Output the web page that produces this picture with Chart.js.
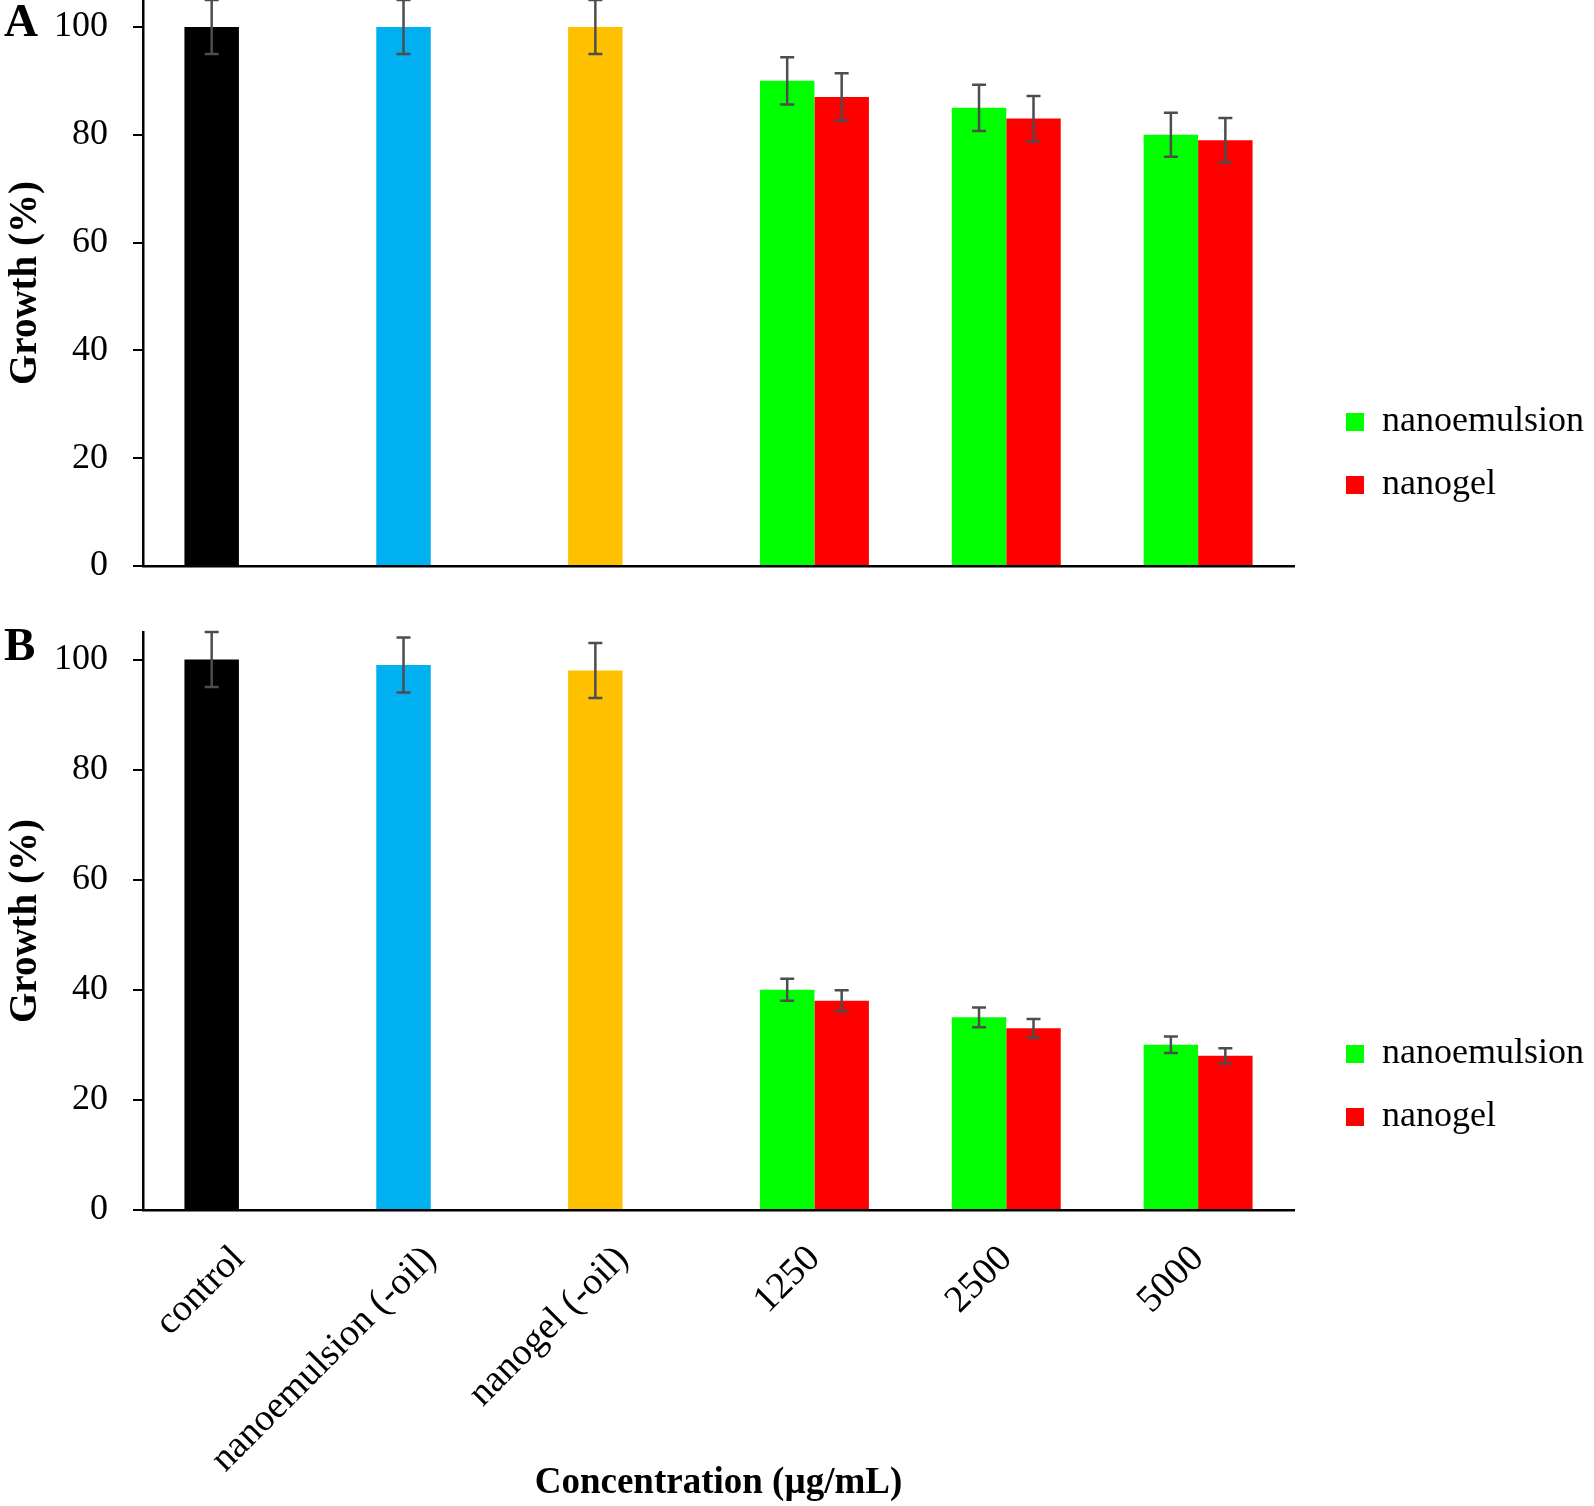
<!DOCTYPE html>
<html>
<head>
<meta charset="utf-8">
<script src="https://cdn.jsdelivr.net/npm/chart.js@4.4.1/dist/chart.umd.min.js"></script>
<style>
  body { margin: 0; background: #fff; }
  #wrap { position: relative; width: 1594px; height: 1506px; }
  canvas { position: absolute; left: 0; }
  #chart-a { top: 0; }
  #chart-b { top: 600px; }
  .panel-tag { position: absolute; left: 4px; font: bold 47px "Times New Roman", "Liberation Serif", serif; line-height: 1; }
</style>
</head>
<body>
<div id="wrap">
  <canvas id="chart-a" width="1594" height="600"></canvas>
  <canvas id="chart-b" width="1594" height="906"></canvas>
  <div class="panel-tag" style="top:-3px">A</div>
  <div class="panel-tag" style="top:621px">B</div>
</div>
<script>
// ==============================
// Data
// ==============================
const categories = ["control", "nanoemulsion (-oil)", "nanogel (-oil)", "1250", "2500", "5000"];
const seriesNames = ["nanoemulsion", "nanogel"];
const legendColors = ["#00FF00", "#FF0000"];
const firstBarColors = ["#000000", "#00B0F0", "#FFC000", "#00FF00", "#00FF00", "#00FF00"];
const secondBarColor = "#FF0000";
const yTicks = [0, 20, 40, 60, 80, 100];

// panel A
const growthA1 = [100, 100, 100, 90, 85, 80];
const errorA1 = [5, 5, 5, 4.4, 4.3, 4.1];
const growthA2 = [null, null, null, 87, 83, 79];
const errorA2 = [null, null, null, 4.4, 4.2, 4.1];

// panel B
const growthB1 = [100, 99, 98, 40, 35, 30];
const errorB1 = [5, 5, 5, 2, 1.8, 1.5];
const growthB2 = [null, null, null, 38, 33, 28];
const errorB2 = [null, null, null, 1.9, 1.7, 1.4];

// ==============================
// Defaults
// ==============================
Chart.defaults.font.family = '"Times New Roman", "Liberation Serif", serif';
Chart.defaults.color = "#000";

// ==============================
// Error bars
// ==============================
const errorBarPlugin = {
    id: "errorBars",
    afterDatasetsDraw(chart) {
        const ctx = chart.ctx;
        const yScale = chart.scales.y;
        ctx.save();
        ctx.strokeStyle = "#4d4d4d";
        ctx.lineWidth = 2.5;
        chart.data.datasets.forEach(function (dataset, i) {
            const meta = chart.getDatasetMeta(i);
            meta.data.forEach(function (bar, j) {
                const value = dataset.data[j];
                const err = dataset.errors[j];
                if (value === null || err === null) return;
                const top = yScale.getPixelForValue(value + err);
                const bottom = yScale.getPixelForValue(value - err);
                ctx.beginPath();
                ctx.moveTo(bar.x, top);
                ctx.lineTo(bar.x, bottom);
                ctx.moveTo(bar.x - 7, top);
                ctx.lineTo(bar.x + 7, top);
                ctx.moveTo(bar.x - 7, bottom);
                ctx.lineTo(bar.x + 7, bottom);
                ctx.stroke();
            });
        });
        ctx.restore();
    }
};

// ==============================
// Build a panel
// ==============================
function makeChart(canvas, growth1, error1, growth2, error2, isBottom) {
    return new Chart(canvas, {
        type: "bar",
        data: {
            labels: categories,
            datasets: [
                {
                    label: seriesNames[0],
                    data: growth1,
                    errors: error1,
                    backgroundColor: firstBarColors,
                    borderWidth: 0,
                    yAxisID: "y",
                    categoryPercentage: 0.568,
                    barPercentage: 1.0
                },
                {
                    label: seriesNames[1],
                    data: growth2,
                    errors: error2,
                    backgroundColor: secondBarColor,
                    borderWidth: 0,
                    yAxisID: "y",
                    categoryPercentage: 0.568,
                    barPercentage: 1.0
                }
            ]
        },
        plugins: [errorBarPlugin],
        options: {
            responsive: false,
            animation: false,
            events: [],
            layout: { padding: { top: isBottom ? 32 : 0, left: 0, right: 0, bottom: 0 } },
            scales: {
                x: {
                    grid: { display: false, drawTicks: false },
                    border: { display: true, color: "#000", width: 2.5 },
                    ticks: {
                        display: isBottom,
                        font: { size: 38 },
                        color: "#000",
                        maxRotation: 45,
                        minRotation: 45,
                        padding: 27,
                        autoSkip: false
                    },
                    title: {
                        display: isBottom,
                        text: "Concentration (µg/mL)",
                        font: { size: 37, weight: "bold" },
                        color: "#000",
                        padding: { top: 0, bottom: 0 }
                    },
                    afterFit(scale) {
                        scale.height = isBottom ? 296 : 34;
                        scale.paddingLeft = 0;
                        scale.paddingRight = 0;
                    }
                },
                y: {
                    min: 0,
                    max: 105,
                    ticks: { stepSize: 20, font: { size: 36 }, color: "#000", padding: 25 },
                    grid: { drawOnChartArea: false, drawTicks: true, tickLength: 10, color: "#000", lineWidth: 2 },
                    border: { display: true, color: "#000", width: 2.5 },
                    title: {
                        display: true,
                        text: "Growth (%)",
                        font: { size: 39, weight: "bold" },
                        color: "#000",
                        padding: { top: 3, bottom: 0 }
                    },
                    afterBuildTicks(scale) {
                        scale.ticks = yTicks.map(function (v) { return { value: v }; });
                    },
                    afterFit(scale) {
                        scale.width = 143;
                        scale.paddingTop = 0;
                        scale.paddingBottom = 0;
                    }
                },
                gap: {
                    type: "linear",
                    position: "right",
                    display: true,
                    grid: { display: false },
                    border: { display: false },
                    ticks: { display: false },
                    afterFit(scale) {
                        scale.width = 25;
                        scale.paddingTop = 0;
                        scale.paddingBottom = 0;
                    }
                }
            },
            plugins: {
                tooltip: { enabled: false },
                legend: {
                    position: "right",
                    fullSize: false,
                    align: "start",
                    maxWidth: 275,
                    title: {
                        display: true,
                        text: " ",
                        font: { size: 10, lineHeight: 1 },
                        padding: { top: 367, bottom: 0 }
                    },
                    labels: {
                        boxWidth: 18,
                        boxHeight: 18,
                        padding: 27,
                        color: "#000",
                        font: { size: 36, lineHeight: 1 },
                        generateLabels: function (chart) {
                            const items = Chart.defaults.plugins.legend.labels.generateLabels(chart);
                            items.forEach(function (item, i) {
                                item.fillStyle = legendColors[i];
                                item.strokeStyle = legendColors[i];
                                item.lineWidth = 0;
                            });
                            return items;
                        }
                    }
                }
            }
        }
    });
}

// ==============================
// Draw both panels
// ==============================
makeChart(document.getElementById("chart-a"), growthA1, errorA1, growthA2, errorA2, false);
makeChart(document.getElementById("chart-b"), growthB1, errorB1, growthB2, errorB2, true);
</script>
</body>
</html>
